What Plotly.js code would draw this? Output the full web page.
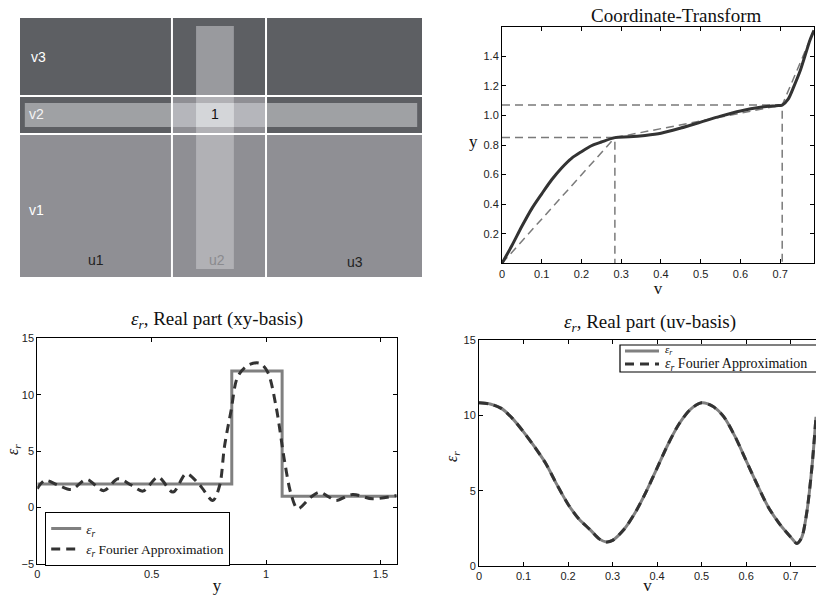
<!DOCTYPE html>
<html>
<head>
<meta charset="utf-8">
<script src="https://cdn.plot.ly/plotly-3.0.1.min.js"></script>
<style>html,body{margin:0;padding:0;background:#fff;}#chart{width:816px;height:595px;}</style>
</head>
<body>
<div id="chart"></div>
<script>
// ---------- Panel 1: grid diagram (u/v regions) ----------
const uEdges = [0, 0.378, 0.612, 1];
const vEdges = [0, 0.552, 0.699, 1];
const cellLevel = [[1, 1, 1], [0, 1, 0], [0, 0, 0]]; // rows v1, v2, v3 ; 1 = lighter region
const uBarSpan = [0.438, 0.532];
const uBarLen = [0.031, 0.969];
const vBarSpan = [0.579, 0.672];
const vBarLen = [0.012, 0.988];
const regionLabels = ['v3', 'v2', '1', 'v1', 'u1', 'u2', 'u3'];

// ---------- Panel 2: coordinate transform ----------
const ctV = [0, 0.025, 0.05, 0.075, 0.1, 0.125, 0.15, 0.175, 0.2, 0.225, 0.25, 0.284, 0.32, 0.36, 0.4, 0.45, 0.5, 0.55, 0.6, 0.65, 0.69, 0.705, 0.72, 0.735, 0.75, 0.762, 0.775, 0.785];
const ctY = [0, 0.12, 0.25, 0.37, 0.47, 0.565, 0.645, 0.71, 0.755, 0.795, 0.82, 0.85, 0.855, 0.865, 0.88, 0.915, 0.955, 0.995, 1.03, 1.055, 1.066, 1.07, 1.11, 1.2, 1.3, 1.4, 1.51, 1.575];
const pwV = [0, 0.284, 0.705, 0.785];
const pwY = [0, 0.85, 1.07, 1.575];
const ctXTicks = [0, 0.1, 0.2, 0.3, 0.4, 0.5, 0.6, 0.7];
const ctXText = ['0', '0.1', '0.2', '0.3', '0.4', '0.5', '0.6', '0.7'];
const ctYTicks = [0.2, 0.4, 0.6, 0.8, 1.0, 1.2, 1.4];
const ctYText = ['0.2', '0.4', '0.6', '0.8', '1.0', '1.2', '1.4'];

// ---------- Panel 3: eps_r in xy-basis ----------
const stepY = [0, 0.85, 1.07, 1.5708];
const stepEps = [2.1, 12.1, 1.0, 1.0];
const fxY = [0, 0.033, 0.09, 0.15, 0.215, 0.29, 0.353, 0.41, 0.462, 0.528, 0.593, 0.651, 0.71, 0.767, 0.797, 0.818, 0.847, 0.876, 0.92, 0.971, 1.007, 1.044, 1.08, 1.109, 1.138, 1.196, 1.233, 1.27, 1.305, 1.378, 1.465, 1.5708];
const fxEps = [1.67, 2.4, 2.0, 1.6, 2.5, 1.5, 2.55, 2.0, 1.46, 2.7, 1.37, 3.0, 2.0, 0.63, 1.96, 5.4, 8.6, 11.6, 12.6, 12.8, 12.0, 8.9, 4.2, 1.2, -0.1, 0.93, 1.37, 1.0, 0.63, 1.16, 0.78, 1.07];
const xyXTicks = [0, 0.5, 1, 1.5];
const xyYTicks = [-5, 0, 5, 10, 15];

// ---------- Panel 4: eps_r in uv-basis ----------
const uvV = [0, 0.025, 0.05, 0.075, 0.1, 0.125, 0.15, 0.175, 0.2, 0.225, 0.25, 0.27, 0.286, 0.3, 0.325, 0.35, 0.375, 0.4, 0.425, 0.45, 0.475, 0.5, 0.525, 0.55, 0.575, 0.6, 0.625, 0.65, 0.675, 0.7, 0.714, 0.725, 0.736, 0.748, 0.757];
const uvEps = [10.83, 10.75, 10.46, 9.8, 8.9, 7.9, 6.8, 5.4, 4.1, 3.1, 2.4, 1.8, 1.6, 1.7, 2.4, 3.5, 4.9, 6.5, 8.1, 9.46, 10.4, 10.83, 10.6, 9.9, 8.6, 7.0, 5.4, 3.9, 2.8, 1.93, 1.5, 1.9, 3.5, 6.6, 9.9];
const uvFourier = [10.83, 10.75, 10.46, 9.8, 8.9, 7.9, 6.8, 5.4, 4.1, 3.1, 2.4, 1.8, 1.6, 1.7, 2.4, 3.5, 4.9, 6.5, 8.1, 9.46, 10.4, 10.83, 10.6, 9.9, 8.6, 7.0, 5.4, 3.9, 2.8, 1.93, 1.5, 1.9, 3.5, 6.6, 9.9];
const uvYTicks = [0, 5, 10, 15];

const seriesNames = ['<i>ε<sub>r</sub></i>', '<i>ε<sub>r</sub></i> Fourier Approximation'];

// ---------- helpers ----------
const W = 816, H = 595;
const px = x => x / W;
const py = y => 1 - y / H;
const SERIF = 'Liberation Serif, Times New Roman, serif';
const SANS = 'Liberation Sans, Arial, sans-serif';
const DARK = '#333333', GRAY = '#808080';
const DASH = '9px,6px';

function ax(extra) {
  return Object.assign({
    showline: true, linecolor: '#000', linewidth: 1, mirror: 'ticks',
    ticks: 'inside', ticklen: 4, tickcolor: '#000', tickwidth: 1,
    showgrid: false, zeroline: false,
    tickfont: {family: SANS, size: 11, color: '#222'}
  }, extra);
}

const traces = [];

// Panel 1 heatmap of regions
traces.push({
  type: 'heatmap', x: uEdges, y: vEdges, z: cellLevel,
  colorscale: [[0, '#5d5f63'], [1, '#8f8f94']], zmin: 0, zmax: 1,
  showscale: false, hoverinfo: 'skip', xaxis: 'x', yaxis: 'y'
});

// Panel 2
traces.push({
  type: 'scatter', mode: 'lines', x: pwV, y: pwY, xaxis: 'x2', yaxis: 'y2',
  line: {color: '#7a7a7a', width: 1.5, dash: '8px,5px'}, showlegend: false, hoverinfo: 'skip'
});
const gx = [], gy = [];
for (let i = 1; i < pwV.length - 1; i++) {
  gx.push(0, pwV[i], pwV[i], null);
  gy.push(pwY[i], pwY[i], 0, null);
}
traces.push({
  type: 'scatter', mode: 'lines', x: gx, y: gy, xaxis: 'x2', yaxis: 'y2',
  line: {color: '#7a7a7a', width: 1.5, dash: '8px,5px'}, showlegend: false, hoverinfo: 'skip'
});
traces.push({
  type: 'scatter', mode: 'lines', x: ctV, y: ctY, xaxis: 'x2', yaxis: 'y2',
  line: {color: DARK, width: 3, shape: 'spline', smoothing: 0.8}, showlegend: false
});

// Panel 3
traces.push({
  type: 'scatter', mode: 'lines', x: stepY, y: stepEps, xaxis: 'x3', yaxis: 'y3',
  name: seriesNames[0], legend: 'legend',
  line: {color: GRAY, width: 3, shape: 'hv'}
});
traces.push({
  type: 'scatter', mode: 'lines', x: fxY, y: fxEps, xaxis: 'x3', yaxis: 'y3',
  name: seriesNames[1], legend: 'legend',
  line: {color: DARK, width: 3, dash: DASH, shape: 'spline', smoothing: 0.9}
});

// Panel 4 (compact legend drawn below with shapes/annotations)
traces.push({
  type: 'scatter', mode: 'lines', x: uvV, y: uvEps, xaxis: 'x4', yaxis: 'y4',
  name: seriesNames[0], showlegend: false,
  line: {color: GRAY, width: 3, shape: 'spline', smoothing: 0.8}
});
traces.push({
  type: 'scatter', mode: 'lines', x: uvV, y: uvFourier, xaxis: 'x4', yaxis: 'y4',
  name: seriesNames[1], showlegend: false,
  line: {color: DARK, width: 3, dash: DASH, shape: 'spline', smoothing: 0.8}
});

// Panel 1 overlay shapes
const shapes = [
  {type: 'rect', xref: 'x', yref: 'y', x0: uBarSpan[0], x1: uBarSpan[1], y0: uBarLen[0], y1: uBarLen[1],
   fillcolor: 'rgb(208,208,212)', opacity: 0.53, line: {width: 0}},
  {type: 'rect', xref: 'x', yref: 'y', x0: vBarLen[0], x1: vBarLen[1], y0: vBarSpan[0], y1: vBarSpan[1],
   fillcolor: 'rgb(214,215,219)', opacity: 0.55, line: {width: 0}},
  {type: 'rect', xref: 'x', yref: 'y', x0: uBarSpan[0], x1: uBarSpan[1], y0: vBarSpan[0], y1: vBarSpan[1],
   fillcolor: '#d4d6d9', line: {width: 0}}
];
for (let i = 1; i < uEdges.length - 1; i++) {
  shapes.push({type: 'line', xref: 'x', yref: 'y', x0: uEdges[i], x1: uEdges[i], y0: 0, y1: 1,
    line: {color: '#ffffff', width: 2}});
}
for (let i = 1; i < vEdges.length - 1; i++) {
  shapes.push({type: 'line', xref: 'x', yref: 'y', x0: 0, x1: 1, y0: vEdges[i], y1: vEdges[i],
    line: {color: '#ffffff', width: 2}});
}

// Panel 4 compact legend box
shapes.push(
  {type: 'rect', xref: 'paper', yref: 'paper', x0: px(620), x1: px(830), y0: py(372), y1: py(345),
   fillcolor: '#ffffff', line: {color: '#000', width: 1.2}},
  {type: 'line', xref: 'paper', yref: 'paper', x0: px(625), x1: px(659), y0: py(351), y1: py(351),
   line: {color: GRAY, width: 3}},
  {type: 'line', xref: 'paper', yref: 'paper', x0: px(625), x1: px(659), y0: py(364), y1: py(364),
   line: {color: DARK, width: 3, dash: DASH}}
);

const labelPos = [[0.045, 0.849], [0.04, 0.629], [0.485, 0.629], [0.04, 0.259], [0.189, 0.066], [0.49, 0.066], [0.833, 0.058]];
const labelColor = ['#fff', '#f4f4f4', '#111', '#fff', '#222', '#8a8a8e', '#222'];
const annotations = regionLabels.map((t, i) => ({
  xref: 'x', yref: 'y', x: labelPos[i][0], y: labelPos[i][1], text: t, showarrow: false,
  xanchor: 'center', yanchor: 'middle',
  font: {family: SANS, size: 14, color: labelColor[i]}
}));

function note(x, y, text, size, extra) {
  return Object.assign({xref: 'paper', yref: 'paper', x: px(x), y: py(y), text: text, showarrow: false,
    xanchor: 'center', yanchor: 'middle', font: {family: SERIF, size: size, color: '#111'}}, extra || {});
}
annotations.push(
  note(676, 15, 'Coordinate-Transform', 19),
  note(217, 320, '<i>ε<sub>r</sub></i>, Real part (xy-basis)', 19),
  note(650, 323, '<i>ε<sub>r</sub></i>, Real part (uv-basis)', 19),
  note(473, 141, 'y', 17),
  note(13, 450, '<i>ε<sub>r</sub></i>', 16, {textangle: -90}),
  note(452, 457, '<i>ε<sub>r</sub></i>', 16, {textangle: -90}),
  note(663, 350, seriesNames[0], 11, {xanchor: 'left'}),
  note(663, 364, seriesNames[1], 14, {xanchor: 'left'})
);

const layout = {
  width: W, height: H,
  margin: {l: 0, r: 0, t: 0, b: 0},
  paper_bgcolor: '#fff', plot_bgcolor: '#fff',
  font: {family: SANS, color: '#222'},
  xaxis: {domain: [px(20), px(422)], range: [0, 1], visible: false, fixedrange: true},
  yaxis: {domain: [py(277), py(18)], range: [0, 1], visible: false, fixedrange: true},
  xaxis2: ax({domain: [px(502), px(814)], anchor: 'y2', range: [0, 0.785], tickvals: ctXTicks, ticktext: ctXText,
    title: {text: 'v', font: {family: SERIF, size: 17, color: '#111'}, standoff: 0}}),
  yaxis2: ax({domain: [py(263.3), py(26.7)], anchor: 'x2', range: [0, 1.6], tickvals: ctYTicks, ticktext: ctYText}),
  xaxis3: ax({domain: [px(37.3), px(396.7)], anchor: 'y3', range: [0, 1.5708], tickvals: xyXTicks,
    title: {text: 'y', font: {family: SERIF, size: 17, color: '#111'}, standoff: 1}}),
  yaxis3: ax({domain: [py(564), py(338.3)], anchor: 'x3', range: [-5, 15], tickvals: xyYTicks}),
  xaxis4: ax({domain: [px(479), 1], anchor: 'y4', range: [0, 0.757], tickvals: ctXTicks, ticktext: ctXText,
    title: {text: 'v', font: {family: SERIF, size: 17, color: '#111'}, standoff: 6}}),
  yaxis4: ax({domain: [py(566), py(340)], anchor: 'x4', range: [0, 15], tickvals: uvYTicks, mirror: false}),
  legend: {x: px(45), y: py(512), xanchor: 'left', yanchor: 'top', bgcolor: '#fff',
    bordercolor: '#000', borderwidth: 1.2, font: {family: SERIF, size: 13.5, color: '#111'}},
  shapes: shapes,
  annotations: annotations
};

Plotly.newPlot('chart', traces, layout, {staticPlot: true, displayModeBar: false});
</script>
</body>
</html>
